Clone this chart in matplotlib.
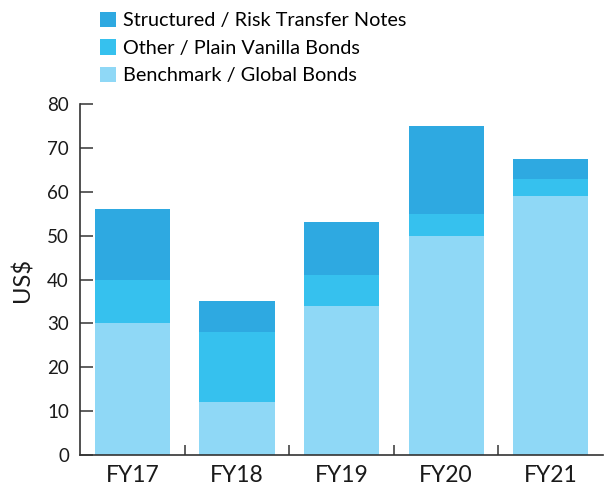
import matplotlib
matplotlib.use("Agg")
import matplotlib.pyplot as plt
import numpy as np

plt.rcParams['font.family'] = ['Lato', 'DejaVu Sans']

years = ["FY17", "FY18", "FY19", "FY20", "FY21"]
benchmark = [30, 12, 34, 50, 59]
other = [10, 16, 7, 5, 4]
structured = [16, 7, 12, 20, 4.5]

c_bench = "#8fd8f6"
c_other = "#36c1ee"
c_struct = "#2ea9e1"

fig = plt.figure(figsize=(6.04, 4.93), dpi=100)
ax = fig.add_axes([0.1325, 0.077, 0.866, 0.712])

x = np.arange(len(years))
w = 0.72
b1 = ax.bar(x, benchmark, w, color=c_bench, label="Benchmark / Global Bonds")
b2 = ax.bar(x, other, w, bottom=benchmark, color=c_other, label="Other / Plain Vanilla Bonds")
bottom2 = [a + b for a, b in zip(benchmark, other)]
b3 = ax.bar(x, structured, w, bottom=bottom2, color=c_struct, label="Structured / Risk Transfer Notes")

ax.set_xlim(-0.5, 4.5)
ax.set_ylim(0, 80)
ax.set_yticks(range(0, 81, 10))
ax.set_xticks(x)
ax.set_xticklabels(years, fontsize=16.5, color="#1a1a1a")
ax.set_xticks(np.arange(0.5, 4.5, 1), minor=True)
ax.tick_params(axis="x", which="major", length=0, pad=7)
ax.tick_params(axis="x", which="minor", direction="in", length=7, width=1.2, color="#444444")
ax.tick_params(axis="y", direction="in", length=9.5, width=1.2, color="#444444",
               labelsize=13.5, labelcolor="#1a1a1a", pad=8)
for s in ["top", "right"]:
    ax.spines[s].set_visible(False)
for s in ["left", "bottom"]:
    ax.spines[s].set_color("#333333")
    ax.spines[s].set_linewidth(1.2)

ax.set_ylabel("US$", fontsize=17, color="#1a1a1a", labelpad=10)

fig.legend(handles=[b3, b2, b1], loc="upper left", bbox_to_anchor=(0.153, 0.992),
           frameon=False, fontsize=14.3, handlelength=0.8, handleheight=0.8,
           handletextpad=0.35, labelspacing=0.5, borderaxespad=0)

fig.savefig("out.png", dpi=100)
